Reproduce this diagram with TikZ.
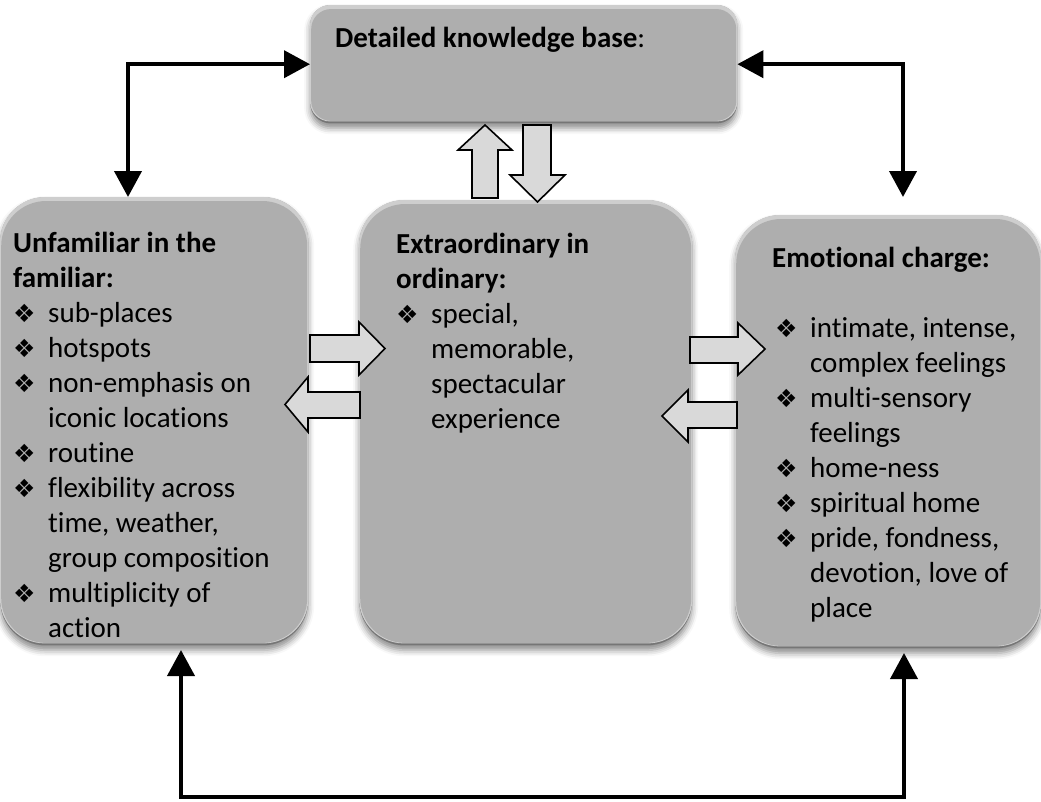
\documentclass[tikz,border=0pt]{standalone}
\usepackage{fontspec}
\setmainfont{Carlito}[Ligatures={CommonOff}]
\newfontfamily\symfont{DejaVu Sans}
\usetikzlibrary{arrows.meta,shadows.blur}
\definecolor{boxgray}{RGB}{174,174,174}
\definecolor{edgedark}{RGB}{118,118,118}
\definecolor{edgelight}{RGB}{206,206,206}
\definecolor{arrgray}{RGB}{217,217,217}
\newcommand\bul{{\symfont\fontsize{25}{25}\selectfont ❖}}
\newcommand\bl[1]{\makebox[35pt][l]{\bul}#1}
\newcommand\cl[1]{\hspace*{35pt}#1}
\newcommand\bevelbox[2]{%
  \fill[edgelight, rounded corners=#2] (#1.north west) rectangle ([yshift=2pt]#1.south east);
  \fill[boxgray, rounded corners=#2] ([xshift=1.2pt,yshift=-4pt]#1.north west) rectangle ([xshift=-1.2pt,yshift=2.5pt]#1.south east);}
\begin{document}
\begin{tikzpicture}[x=1pt,y=-1pt,
  box/.style={rectangle, draw=none, fill=edgedark, inner sep=0pt, anchor=north west,
    blur shadow={shadow xshift=0pt,shadow yshift=-5pt,shadow blur radius=6pt,shadow opacity=45}},
  conn/.style={line width=4pt, {Triangle[length=26pt,width=27pt]}-{Triangle[length=26pt,width=27pt]}},
  blk/.style={draw=black, line width=1.6pt, fill=arrgray, line join=miter},
  txt/.style={inner sep=0pt, anchor=base west, font=\fontsize{29}{35}\selectfont}]

\useasboundingbox (0,0) rectangle (1041,801);

% boxes
\node[box, rounded corners=20pt, minimum width=427pt, minimum height=118pt] (kb) at (310,5) {};
\node[box, rounded corners=45pt, minimum width=308pt, minimum height=448pt] (lb) at (0,197) {};
\node[box, rounded corners=45pt, minimum width=333pt, minimum height=445pt] (mb) at (359,200) {};
\node[box, rounded corners=45pt, minimum width=306pt, minimum height=433pt] (rb) at (735,215) {};
\bevelbox{kb}{20pt}
\bevelbox{lb}{45pt}
\bevelbox{mb}{45pt}
\bevelbox{rb}{45pt}

% texts
\node[txt] (kbt) at (335,47) {\textbf{Detailed knowledge base}:};
\node[txt] (lbt) at (13,252) {\parbox[t]{300pt}{\textbf{Unfamiliar in the}\\
  \textbf{familiar:}\\
  \bl{sub-places}\\
  \bl{hotspots}\\
  \bl{non-emphasis on}\\
  \cl{iconic locations}\\
  \bl{routine}\\
  \bl{flexibility across}\\
  \cl{time, weather,}\\
  \cl{group composition}\\
  \bl{multiplicity of}\\
  \cl{action}}};
\node[txt] (mbt) at (396,253) {\parbox[t]{290pt}{\textbf{Extraordinary in}\\
  \textbf{ordinary:}\\
  \bl{special,}\\
  \cl{memorable,}\\
  \cl{spectacular}\\
  \cl{experience}}};
\node[txt] (rbh) at (772,267) {\textbf{Emotional charge:}};
\node[txt] (rbt) at (775,337) {\parbox[t]{265pt}{\bl{intimate, intense,}\\
  \cl{complex feelings}\\
  \bl{multi-sensory}\\
  \cl{feelings}\\
  \bl{home-ness}\\
  \bl{spiritual home}\\
  \bl{pride, fondness,}\\
  \cl{devotion, love of}\\
  \cl{place}}};

% block arrows
\draw[blk] (472,198) -- (472,150) -- (458,150) -- (485,125) -- (512,150) -- (498,150) -- (498,198) -- cycle;
\draw[blk] (523,125) -- (523,175) -- (510,175) -- (537.5,202) -- (565,175) -- (551,175) -- (551,125) -- cycle;
\draw[blk] (310,335) -- (359,335) -- (359,322) -- (385,348.5) -- (359,375) -- (359,362) -- (310,362) -- cycle;
\draw[blk] (360,392) -- (308,392) -- (308,377) -- (285,404.5) -- (308,432) -- (308,418) -- (360,418) -- cycle;
\draw[blk] (690,337) -- (738,337) -- (738,323) -- (765,349) -- (738,375) -- (738,363) -- (690,363) -- cycle;
\draw[blk] (737,402) -- (688,402) -- (688,390) -- (662,416) -- (688,442) -- (688,428) -- (737,428) -- cycle;

% connectors
\coordinate (c1) at (128,197);
\coordinate (c2) at (903,197);
\coordinate (c3) at (181,650);
\coordinate (c4) at (904,653);
\coordinate (cb) at (0,797);
\draw[conn] (kb.west) -| (c1);
\draw[conn] (kb.east) -| (c2);
\draw[conn] (c3) -- (c3 |- cb) -- (c4 |- cb) -- (c4);
\end{tikzpicture}
\end{document}
